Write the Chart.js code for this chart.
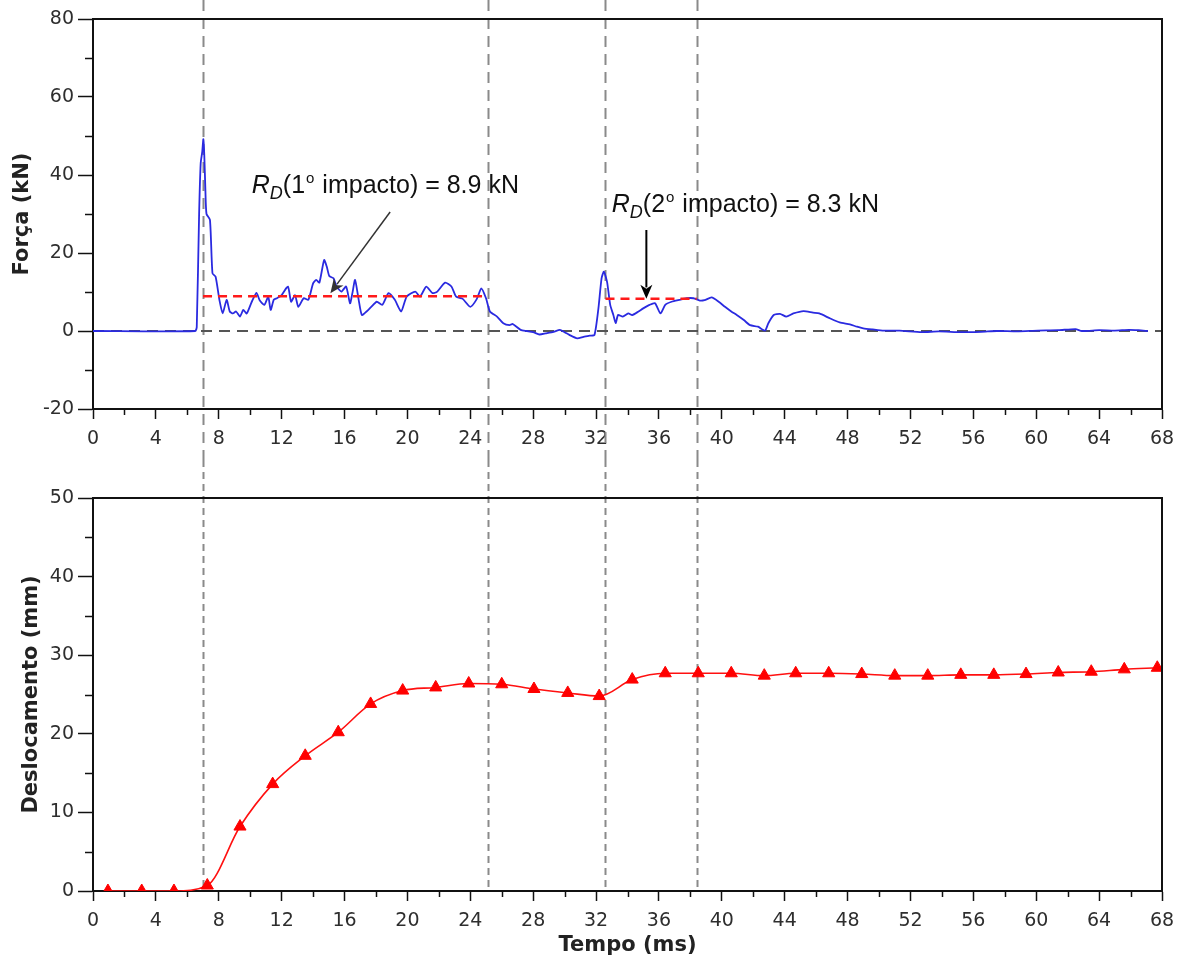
<!DOCTYPE html>
<html>
<head>
<meta charset="utf-8">
<script src="https://cdn.jsdelivr.net/npm/chart.js@4.4.1/dist/chart.umd.min.js"></script>
<style>
  html, body { margin: 0; padding: 0; background: #fff; }
  #wrap { position: relative; width: 1185px; height: 965px; }
  .box { position: absolute; left: 0; width: 1185px; }
  canvas { display: block; }
</style>
</head>
<body>
<div id="wrap">
  <div class="box" style="top:0;height:460px"><canvas id="forceChart" width="1185" height="460"></canvas></div>
  <div class="box" style="top:460px;height:505px"><canvas id="dispChart" width="1185" height="505"></canvas></div>
</div>
<script>
// ---- measured force signal (time in ms, force in kN) ----
const forceTime = [0, 6.5, 6.6, 6.75, 6.85, 6.95, 7.02, 7.08, 7.15, 7.22, 7.44, 7.6, 7.8, 8.04, 8.25, 8.5, 8.7, 8.9, 9.1, 9.35,
  9.56, 9.78, 10.1, 10.4, 10.6, 10.9, 11.15, 11.3, 11.5, 11.7, 12.0, 12.4, 12.6, 12.85, 13.06, 13.4, 13.7, 14.0, 14.2, 14.4,
  14.7, 14.87, 15.03, 15.3, 15.5, 15.8, 16.1, 16.35, 16.5, 16.67, 16.9, 17.1, 17.4, 17.7, 18.05, 18.4, 18.8, 19.2, 19.6, 19.95,
  20.5, 20.8, 21.2, 21.6, 21.9, 22.4, 22.8, 23.1, 23.5, 24.0, 24.4, 24.7, 25.0, 25.25, 25.7, 26.1, 26.5, 26.7, 27.2, 27.6,
  28.0, 28.4, 28.8, 29.3, 29.7, 30.0, 30.3, 30.8, 31.2, 31.6, 31.9, 32.15, 32.35, 32.5, 32.7, 32.9, 33.1, 33.25, 33.4, 33.7,
  34.05, 34.3, 34.7, 35.0, 35.4, 35.75, 36.1, 36.4, 36.8, 37.3, 37.75, 38.2, 38.6, 38.9, 39.35, 39.8, 40.2, 40.6, 40.95, 41.4,
  41.8, 42.3, 42.75, 42.96, 43.3, 43.7, 44.1, 44.55, 45.2, 45.8, 46.2, 46.9, 47.5, 48.15, 48.6, 49.0, 49.6, 50.3, 51.3, 52.7,
  53.8, 55.2, 56.5, 57.5, 58.8, 60.1, 61.4, 62.5, 62.9, 64.0, 65.0, 65.9, 66.5, 67.1];
const forceKN = [0, 0, 1, 30, 43, 46, 49.2, 45, 36, 30, 28.5, 14.8, 13.9, 8, 4.5, 8, 5, 4.5, 5, 3.7,
  5.4, 4.5, 7.5, 9.8, 7.9, 6.7, 8.8, 5.4, 8, 8.4, 9.2, 11.4, 7.5, 9.2, 6.2, 8.4, 8, 12.2, 13.1, 12.4,
  18.2, 16.5, 14.1, 13.5, 11.4, 10.1, 11.4, 7.1, 9.7, 13.1, 8, 4.1, 5, 6.2, 7.5, 6.7, 9.7, 8, 5, 8.8,
  10.1, 8.8, 11.4, 9.7, 10.1, 12.4, 11.4, 8.8, 8.3, 6.2, 8.1, 10.9, 8.4, 5.0, 3.7, 2.0, 1.5, 1.8, 0.3, 0,
  -0.3, -0.9, -0.6, -0.2, 0.3, -0.3, -1.0, -1.9, -1.5, -1.2, -1.0, 5.8, 13.5, 15.2, 12.6, 6.7, 4.1, 2.0, 4.1, 3.7,
  4.5, 4.1, 5.0, 5.8, 6.7, 7.1, 4.5, 6.7, 7.5, 8.0, 8.4, 8.4, 7.8, 7.9, 8.6, 7.5, 6.2, 5.0, 4.1, 2.8,
  1.5, 1.1, 0.1, 2.0, 4.1, 4.4, 3.7, 4.5, 5.1, 4.7, 4.5, 3.2, 2.2, 1.7, 1.1, 0.7, 0.4, 0.1, 0.1, -0.3,
  -0.1, -0.3, -0.2, 0, -0.1, 0.1, 0.2, 0.5, 0, 0.2, 0.1, 0.3, 0.2, 0];

// ---- displacement readings (time in ms, displacement in mm) ----
const dispTime = [0.95, 3.1, 5.15, 7.27, 9.35, 11.43, 13.5, 15.6, 17.66, 19.7, 21.8, 23.9, 26.0, 28.05, 30.2, 32.2, 34.3,
  36.4, 38.5, 40.6, 42.7, 44.7, 46.8, 48.9, 51.0, 53.1, 55.2, 57.3, 59.35, 61.4, 63.5, 65.6, 67.7];
const dispMM = [0, 0, 0, 0.7, 8.2, 13.6, 17.2, 20.2, 23.8, 25.5, 25.9, 26.4, 26.3, 25.7, 25.2, 24.8, 26.9,
  27.7, 27.7, 27.7, 27.4, 27.7, 27.7, 27.6, 27.4, 27.4, 27.5, 27.5, 27.6, 27.8, 27.9, 28.2, 28.4];

// ---- event markers and dynamic resistance levels ----
const eventTimes = [7.0, 25.1, 32.6, 38.4];     // vertical reference lines (ms)
const impactNames = ['1', '2'];                 // impact number
const rdStart = [7.0, 32.6];                    // start of averaging window (ms)
const rdEnd = [25.1, 38.4];                     // end of averaging window (ms)
const rdValues = [8.9, 8.3];                    // R_D (kN)

const timeRange = [0, 68];
const forceRange = [-20, 80];
const dispRange = [0, 50];

const TICK_FONT = { family: 'DejaVu Sans', size: 19 };
const TITLE_FONT = { family: 'DejaVu Sans', size: 21, weight: 'bold' };
const TEXT_FONT = '"Liberation Sans", Arial, sans-serif';

const toXY = (xs, ys) => xs.map((x, i) => ({ x, y: ys[i] }));

// minor tick marks, outer frame and vertical event lines
const framePlugin = {
  id: 'frame',
  beforeDatasetsDraw(chart, args, opts) {
    const { ctx, chartArea, scales } = chart;
    ctx.save();
    ctx.strokeStyle = '#8a8a8a';
    ctx.lineWidth = 2;
    ctx.setLineDash(opts.dash);
    const yEnd = opts.toCanvasBottom ? chart.height : chartArea.bottom;
    eventTimes.forEach(t => {
      const px = Math.round(scales.x.getPixelForValue(t)) + 0.5;
      ctx.beginPath();
      ctx.moveTo(px, 0);
      ctx.lineTo(px, yEnd);
      ctx.stroke();
    });
    ctx.restore();
  },
  afterDraw(chart, args, opts) {
    const { ctx, chartArea, scales } = chart;
    ctx.save();
    ctx.strokeStyle = '#111';
    ctx.lineWidth = 1.5;
    ctx.setLineDash([]);
    // minor ticks on x
    const xs = scales.x;
    for (let v = xs.min; v <= xs.max + 1e-9; v += opts.xMinor) {
      if (Math.abs(v / opts.xMajor - Math.round(v / opts.xMajor)) < 1e-6) continue;
      const px = Math.round(xs.getPixelForValue(v)) + 0.5;
      ctx.beginPath();
      ctx.moveTo(px, chartArea.bottom);
      ctx.lineTo(px, chartArea.bottom + 6);
      ctx.stroke();
    }
    const ys = scales.y;
    for (let v = ys.min; v <= ys.max + 1e-9; v += opts.yMinor) {
      if (Math.abs(v / opts.yMajor - Math.round(v / opts.yMajor)) < 1e-6) continue;
      const py = Math.round(ys.getPixelForValue(v)) + 0.5;
      ctx.beginPath();
      ctx.moveTo(chartArea.left, py);
      ctx.lineTo(chartArea.left - 8, py);
      ctx.stroke();
    }
    // top and right edges of the frame
    ctx.lineWidth = 2;
    ctx.beginPath();
    ctx.moveTo(chartArea.left, chartArea.top);
    ctx.lineTo(chartArea.right, chartArea.top);
    ctx.lineTo(chartArea.right, chartArea.bottom);
    ctx.stroke();
    ctx.restore();
  }
};

// R_D labels with arrows on the force plot
const rdLabelPlugin = {
  id: 'rdLabels',
  afterDatasetsDraw(chart, args, opts) {
    const { ctx, scales } = chart;
    const X = v => scales.x.getPixelForValue(v);
    const Y = v => scales.y.getPixelForValue(v);
    ctx.save();
    opts.items.forEach((it, i) => {
      // arrow
      const x0 = X(it.from[0]), y0 = Y(it.from[1]);
      const x1 = X(it.to[0]), y1 = Y(it.to[1]);
      const ang = Math.atan2(y1 - y0, x1 - x0);
      const head = 14, half = 6;
      ctx.strokeStyle = it.color;
      ctx.fillStyle = it.color;
      ctx.lineWidth = it.width;
      ctx.beginPath();
      ctx.moveTo(x0, y0);
      ctx.lineTo(x1 - Math.cos(ang) * head * 0.8, y1 - Math.sin(ang) * head * 0.8);
      ctx.stroke();
      ctx.beginPath();
      ctx.moveTo(x1, y1);
      ctx.lineTo(x1 - Math.cos(ang) * head + Math.sin(ang) * half, y1 - Math.sin(ang) * head - Math.cos(ang) * half);
      ctx.lineTo(x1 - Math.cos(ang) * head * 0.7, y1 - Math.sin(ang) * head * 0.7);
      ctx.lineTo(x1 - Math.cos(ang) * head - Math.sin(ang) * half, y1 - Math.sin(ang) * head + Math.cos(ang) * half);
      ctx.closePath();
      ctx.fill();

      // text: R_D(nº impacto) = v kN
      let cx = X(it.text[0]);
      const by = Y(it.text[1]);
      ctx.fillStyle = '#111';
      ctx.textAlign = 'left';
      ctx.textBaseline = 'alphabetic';
      const put = (s, font, dy) => {
        ctx.font = font;
        ctx.fillText(s, cx, by + dy);
        cx += ctx.measureText(s).width;
      };
      put('R', 'italic 25px ' + TEXT_FONT, 0);
      put('D', 'italic 18px ' + TEXT_FONT, 6);
      put('(' + impactNames[i], '25px ' + TEXT_FONT, 0);
      cx += 1;
      put('o', '15px ' + TEXT_FONT, -10);
      cx += 1;
      put(' impacto) = ' + rdValues[i].toFixed(1) + ' kN', '25px ' + TEXT_FONT, 0);
    });
    ctx.restore();
  }
};

function baseScales(yRange, yMajor, yTitle, titlePadTop, xHeight, xTitle) {
  return {
    x: {
      type: 'linear', min: timeRange[0], max: timeRange[1],
      ticks: { stepSize: 4, autoSkip: false, maxRotation: 0, color: '#2e2e2e', font: TICK_FONT, padding: 9 },
      grid: { drawOnChartArea: false, drawTicks: true, tickLength: 10, tickWidth: 1.5, tickColor: '#111' },
      border: { display: true, color: '#111', width: 2 },
      title: xTitle ? { display: true, text: xTitle, color: '#222', font: TITLE_FONT, padding: { top: 0, bottom: 7 } } : { display: false },
      afterFit: s => { s.height = xHeight; }
    },
    y: {
      type: 'linear', min: yRange[0], max: yRange[1],
      ticks: { stepSize: yMajor, autoSkip: false, color: '#2e2e2e', font: TICK_FONT, padding: 4 },
      grid: { drawOnChartArea: false, drawTicks: true, tickLength: 15, tickWidth: 1.5, tickColor: '#111' },
      border: { display: true, color: '#111', width: 2 },
      title: { display: true, text: yTitle, color: '#222', font: TITLE_FONT, padding: { top: titlePadTop, bottom: 0 } },
      afterFit: s => { s.width = 93; }
    }
  };
}

// ---- force vs time ----
new Chart(document.getElementById('forceChart'), {
  type: 'line',
  data: {
    datasets: [
      ...rdValues.map((v, i) => ({
        data: [{ x: rdStart[i], y: v }, { x: rdEnd[i], y: v }],
        borderColor: '#ff1a1a', borderWidth: 2.5, borderDash: [9, 6], pointRadius: 0
      })),
      {
        data: toXY(forceTime, forceKN),
        borderColor: '#2a2ae0', borderWidth: 1.8, pointRadius: 0, tension: 0.2
      },
      {
        data: [{ x: timeRange[0], y: 0 }, { x: timeRange[1], y: 0 }],
        borderColor: '#555', borderWidth: 2, borderDash: [11, 7], pointRadius: 0
      }
    ]
  },
  options: {
    responsive: false, devicePixelRatio: 1, animation: false,
    layout: { padding: { left: 0, right: 23, top: 19, bottom: 0 } },
    plugins: {
      legend: { display: false }, tooltip: { enabled: false },
      frame: { dash: [11, 7], toCanvasBottom: true, xMinor: 2, xMajor: 4, yMinor: 10, yMajor: 20 },
      rdLabels: {
        items: [
          { text: [10.1, 35.5], from: [18.9, 30.5], to: [15.1, 9.7], color: '#333', width: 1.5 },
          { text: [33.0, 30.6], from: [35.2, 25.9], to: [35.2, rdValues[1]], color: '#000', width: 2 }
        ]
      }
    },
    scales: baseScales(forceRange, 20, 'Força (kN)', 10, 51, null)
  },
  plugins: [framePlugin, rdLabelPlugin]
});

// ---- displacement vs time ----
new Chart(document.getElementById('dispChart'), {
  type: 'line',
  data: {
    datasets: [{
      data: toXY(dispTime, dispMM),
      borderColor: '#ff1010', backgroundColor: '#ff0000', borderWidth: 1.6,
      pointStyle: 'triangle', pointRadius: 7, pointBorderWidth: 1, pointBorderColor: '#ff0000',
      cubicInterpolationMode: 'monotone'
    }]
  },
  options: {
    responsive: false, devicePixelRatio: 1, animation: false,
    layout: { padding: { left: 0, right: 23, top: 38, bottom: 0 } },
    plugins: {
      legend: { display: false }, tooltip: { enabled: false },
      frame: { dash: [7, 5], toCanvasBottom: false, xMinor: 2, xMajor: 4, yMinor: 5, yMajor: 10 }
    },
    scales: baseScales(dispRange, 10, 'Deslocamento (mm)', 19, 74, 'Tempo (ms)')
  },
  plugins: [framePlugin]
});
</script>
</body>
</html>
